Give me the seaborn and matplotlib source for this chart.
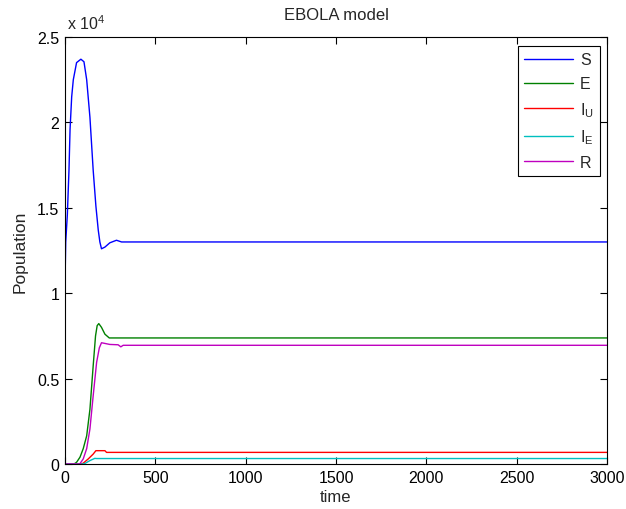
import numpy as np
import pandas as pd
import matplotlib
matplotlib.use("Agg")
import matplotlib.pyplot as plt
import seaborn as sns
from matplotlib.ticker import FuncFormatter, MultipleLocator

# ---- data, population in persons ----
t_S = [0, 1, 4, 13, 22, 28, 37, 46, 64, 88, 105, 120, 138, 156, 171, 184, 193, 202, 221, 248, 285, 313, 3000]
S = [6400, 11200, 13000, 14600, 17200, 19600, 21500, 22500, 23500, 23700, 23550, 22500, 20300, 17200, 15100, 13700, 13000, 12600, 12700, 12950, 13100, 13000, 13000]

t_E = [0, 50, 64, 83, 101, 120, 138, 156, 169, 178, 187, 202, 221, 245, 3000]
E = [0, 0, 100, 400, 900, 1650, 3200, 5750, 7500, 8100, 8220, 8000, 7600, 7380, 7380]

t_IU = [0, 90, 101, 129, 156, 171, 221, 230, 3000]
IU = [0, 0, 50, 300, 580, 780, 780, 680, 680]

t_IE = [0, 100, 110, 138, 165, 175, 3000]
IE = [0, 0, 30, 200, 330, 320, 320]

t_R = [0, 75, 83, 101, 120, 138, 156, 175, 190, 202, 248, 294, 309, 322, 3000]
R = [0, 0, 20, 300, 900, 2050, 4000, 5950, 6800, 7100, 7000, 6980, 6860, 6950, 6950]

names = ["S", "E", "I$_U$", "I$_E$", "R"]
colors = ["#0000ff", "#008000", "#ff0000", "#00bfbf", "#bf00bf"]

frames = []
for name, t, v in zip(names, [t_S, t_E, t_IU, t_IE, t_R], [S, E, IU, IE, R]):
    frames.append(pd.DataFrame({"time": t, "Population": v, "compartment": name}))
df = pd.concat(frames, ignore_index=True)

sns.set_style("ticks")
plt.rcParams["font.family"] = ["Liberation Sans", "DejaVu Sans"]
plt.rcParams["mathtext.fontset"] = "custom"
plt.rcParams["mathtext.rm"] = "Liberation Sans"
plt.rcParams["mathtext.it"] = "Liberation Sans"

fig = plt.figure(figsize=(6.26, 5.10), dpi=100)
ax = fig.add_axes([65 / 626, 45 / 510, 542 / 626, 427 / 510])

sns.lineplot(data=df, x="time", y="Population", hue="compartment",
             hue_order=names, palette=dict(zip(names, colors)),
             estimator=None, sort=False, linewidth=1.0, ax=ax)

ax.set_xlim(0, 3000)
ax.set_ylim(0, 25000)
ax.xaxis.set_major_locator(MultipleLocator(500))
ax.yaxis.set_major_locator(MultipleLocator(5000))
ax.yaxis.set_major_formatter(FuncFormatter(lambda y, p: f"{y/1e4:g}"))

fs = 11.5
ax.set_title("EBOLA model", fontsize=12, pad=13)
ax.set_xlabel("time", fontsize=12, labelpad=3)
ax.set_ylabel("Population", fontsize=12.5, labelpad=7)
ax.tick_params(direction="in", length=5, width=0.8, top=True, right=True,
               labelsize=fs, colors="black", pad=4)
for s in ax.spines.values():
    s.set_visible(True)
    s.set_linewidth(0.8)
    s.set_color("black")

ax.text(0.003, 1.012, r"x 10$^{4}$", transform=ax.transAxes, fontsize=fs,
        ha="left", va="bottom")

leg = ax.legend(loc="upper right", bbox_to_anchor=(1 - 7 / 542, 1 - 9 / 427),
                borderaxespad=0, frameon=True,
                fancybox=False, edgecolor="black", framealpha=1, fontsize=fs,
                handlelength=3.1, handletextpad=0.4, borderpad=0.4,
                labelspacing=0.55, markerfirst=True)
leg.get_frame().set_linewidth(0.8)

fig.savefig("out.png", dpi=100, facecolor="white")
